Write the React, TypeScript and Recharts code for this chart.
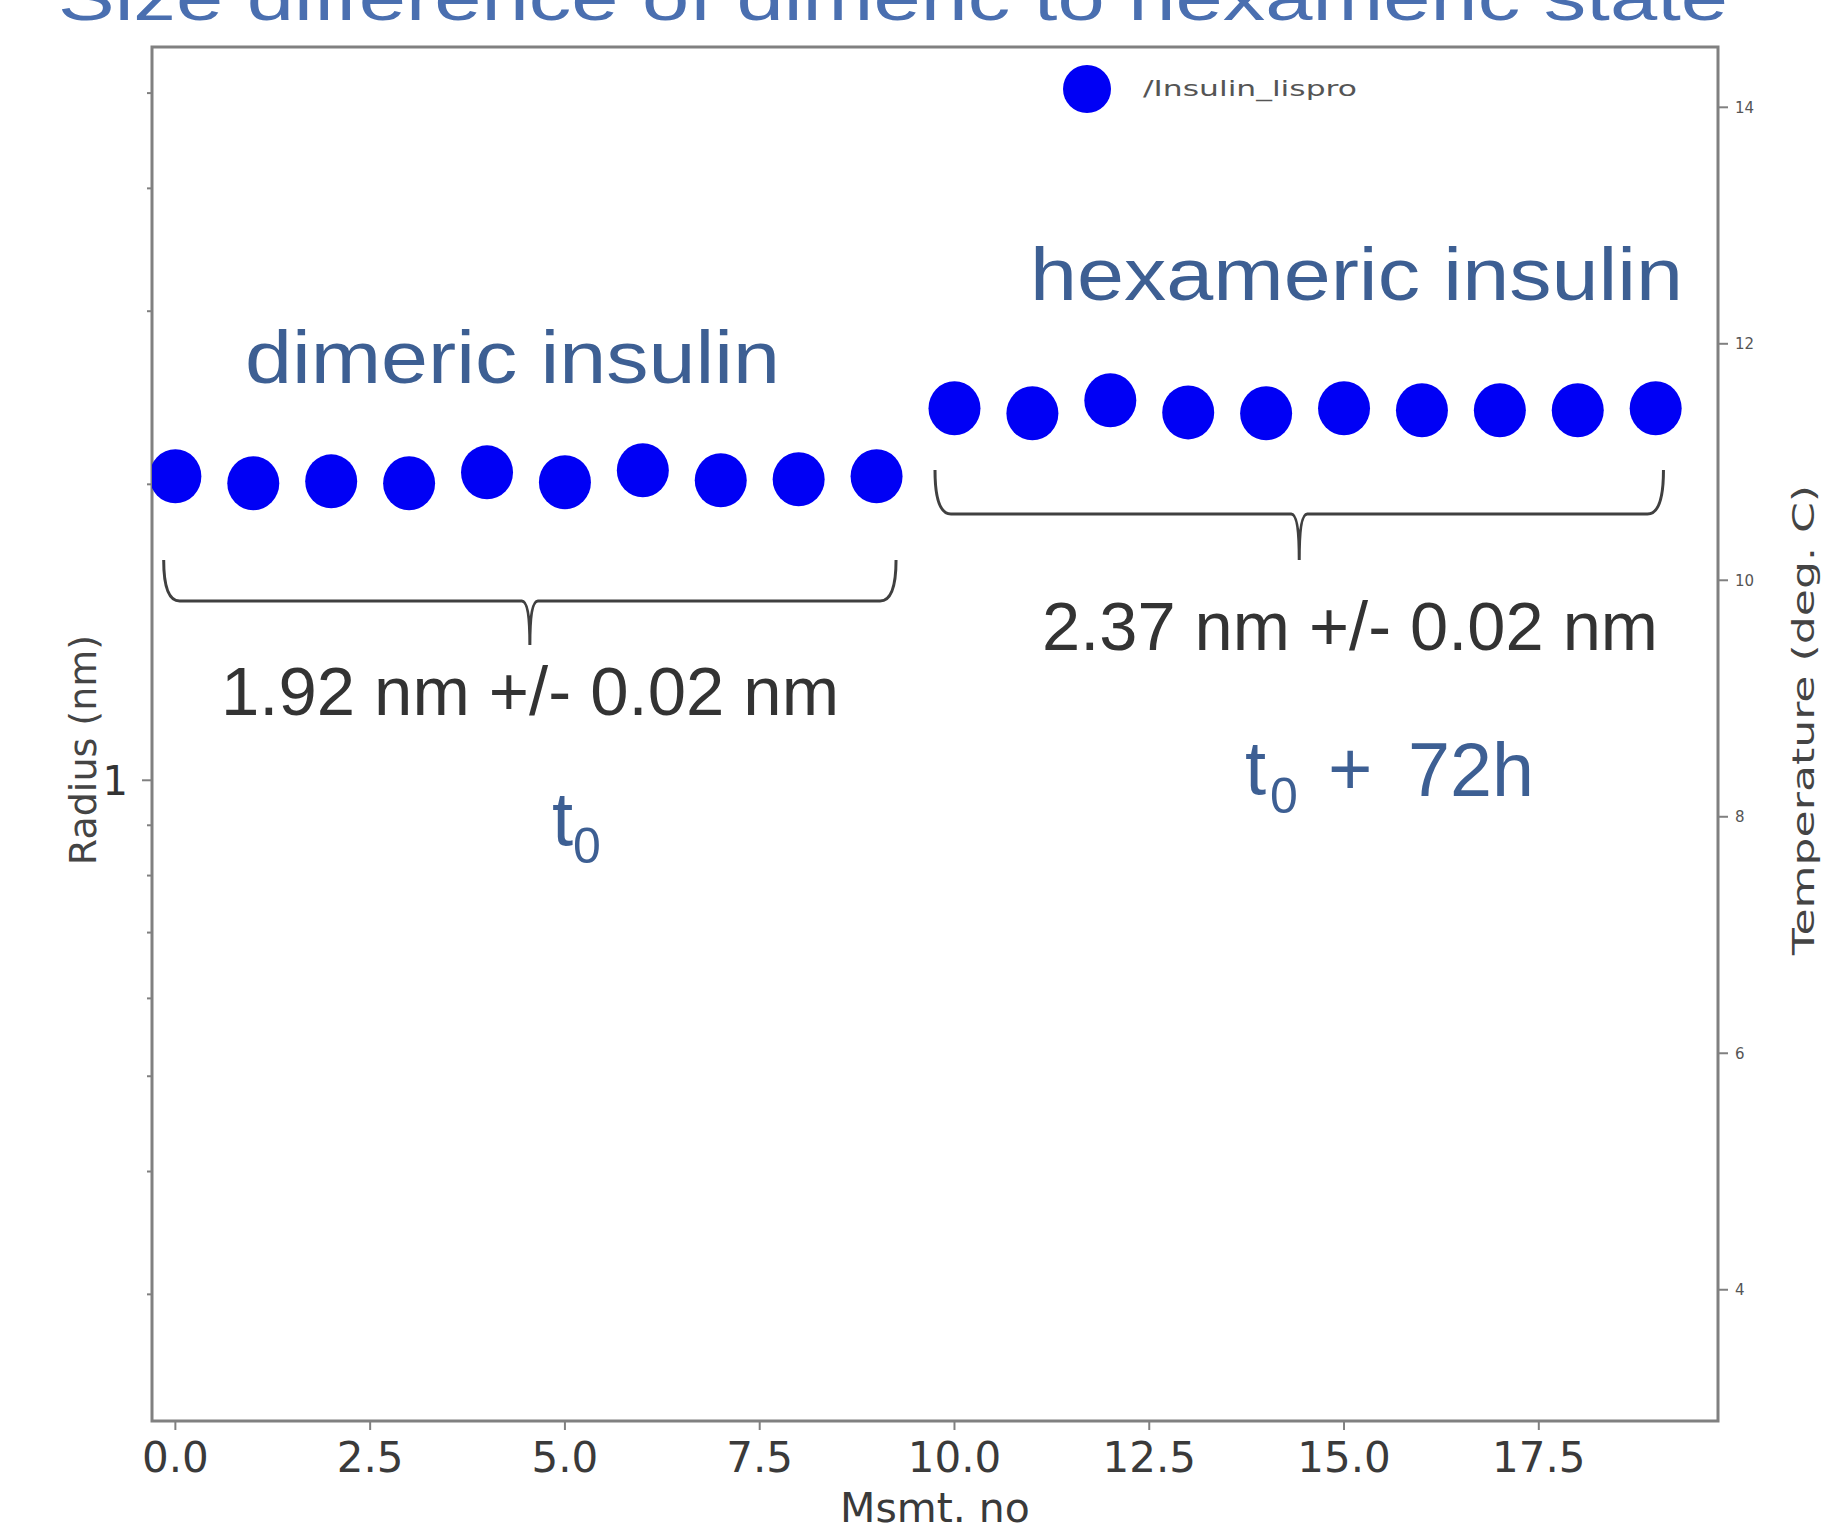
import { ScatterChart, Scatter, XAxis, YAxis, ReferenceArea, Legend } from 'recharts';

const msmtNo = [0, 1, 2, 3, 4, 5, 6, 7, 8, 9, 10, 11, 12, 13, 14, 15, 16, 17, 18, 19];
const radiusDimeric = [2.038, 2.005, 2.014, 2.005, 2.057, 2.01, 2.067, 2.019, 2.024, 2.038];
const radiusHexameric = [2.39, 2.362, 2.435, 2.367, 2.362, 2.39, 2.379, 2.379, 2.379, 2.39];

const xTicks = [0, 2.5, 5, 7.5, 10, 12.5, 15, 17.5];
const radiusTicks = [0.3, 0.4, 0.5, 0.6, 0.7, 0.8, 0.9, 1, 2, 3, 4, 5];
const radiusLabelled = [1];
const tempTicks = [4, 6, 8, 10, 12, 14];

const X_DOMAIN: [number, number] = [-0.3, 19.8];
const R_DOMAIN: [number, number] = [0.223, 5.57];
const T_DOMAIN: [number, number] = [2.89, 14.51];

const points = msmtNo.map((x, i) => ({ x, r: [...radiusDimeric, ...radiusHexameric][i] }));

const W = 1830;
const H = 1533;
const PLOT = { left: 152, right: 1718, top: 47, bottom: 1421 };
const px = (x: number) => PLOT.left + ((x - X_DOMAIN[0]) / (X_DOMAIN[1] - X_DOMAIN[0])) * (PLOT.right - PLOT.left);

const AXIS_FONT = '"DejaVu Sans", sans-serif';
const NOTE_FONT = '"Liberation Sans", Arial, sans-serif';
const BLUE = '#0000f5';
const NOTE_BLUE = '#3d5f93';
const FRAME = '#808080';

const Dot = (p: any) => <ellipse cx={p.cx} cy={p.cy} rx={26} ry={27} fill={BLUE} />;

const RadiusTick = ({ x, y, payload }: any) => {
  const major = radiusLabelled.includes(payload.value);
  return (
    <g>
      <line x1={x} x2={x - (major ? 10 : 5)} y1={y} y2={y} stroke={FRAME} strokeWidth={2} />
      {major && (
        <text x={x - 24} y={y} dy="0.36em" textAnchor="end" fontSize={40} fill="#333" fontFamily={AXIS_FONT}>
          {payload.value}
        </text>
      )}
    </g>
  );
};

const LegendBox = () => (
  <svg width={330} height={56}>
    <circle cx={32} cy={28} r={24} fill={BLUE} />
    <text x={88} y={35} fontSize={21} fill="#555" fontFamily={AXIS_FONT} textLength={214} lengthAdjust="spacingAndGlyphs">
      /Insulin_lispro
    </text>
  </svg>
);

const leftTitle = (p: any) => {
  const vb = p.viewBox || { x: 0, y: PLOT.top, width: 152, height: PLOT.bottom - PLOT.top };
  const cx = vb.x + 82;
  const cy = vb.y + vb.height / 2 + 16;
  return (
    <text x={cx} y={cy} transform={`rotate(-90 ${cx} ${cy})`} dy="0.36em" textAnchor="middle" fontSize={38} fill="#444" fontFamily={AXIS_FONT}>
      Radius (nm)
    </text>
  );
};

const rightTitle = (p: any) => {
  const vb = p.viewBox || { x: PLOT.right, y: PLOT.top, width: 112, height: PLOT.bottom - PLOT.top };
  const cx = vb.x + 85;
  const cy = vb.y + vb.height / 2 - 14;
  return (
    <text x={cx} y={cy} transform={`rotate(-90 ${cx} ${cy})`} dy="0.36em" textAnchor="middle" fontSize={30} fill="#444" fontFamily={AXIS_FONT} textLength={470} lengthAdjust="spacingAndGlyphs">
      Temperature (deg. C)
    </text>
  );
};

// curly brace opening upwards, pointing down at its middle
const brace = (x1: number, x2: number, yTop: number, yLine: number, yTip: number) => {
  const xc = (x1 + x2) / 2;
  const r = 8;
  return `M${x1},${yTop} Q${x1},${yLine} ${x1 + r * 2},${yLine} L${xc - r},${yLine} Q${xc},${yLine} ${xc},${yTip} Q${xc},${yLine} ${xc + r},${yLine} L${x2 - r * 2},${yLine} Q${x2},${yLine} ${x2},${yTop}`;
};

const Annotations = () => (
  <svg width={W} height={H} style={{ position: 'absolute', left: 0, top: 0, pointerEvents: 'none' }}>
    {/* title is cut off at the top edge in the source image */}
    <text x={58} y={20} fontSize={64} fill="#4a6fb0" fontFamily={NOTE_FONT} textLength={1670} lengthAdjust="spacingAndGlyphs">
      Size difference of dimeric to hexameric state
    </text>

    <text x={245} y={383} fontSize={74} fill={NOTE_BLUE} fontFamily={NOTE_FONT} textLength={535} lengthAdjust="spacingAndGlyphs">
      dimeric  insulin
    </text>
    <text x={1030} y={300} fontSize={74} fill={NOTE_BLUE} fontFamily={NOTE_FONT} textLength={653} lengthAdjust="spacingAndGlyphs">
      hexameric  insulin
    </text>

    <path d={brace(px(-0.15), px(9.25), 560, 601, 645)} fill="none" stroke="#404040" strokeWidth={3} />
    <path d={brace(px(9.75), px(19.1), 470, 514, 560)} fill="none" stroke="#404040" strokeWidth={3} />

    <text x={221} y={715} fontSize={68} fill="#333" fontFamily={NOTE_FONT} textLength={618} lengthAdjust="spacingAndGlyphs">
      1.92 nm +/- 0.02 nm
    </text>
    <text x={1042} y={650} fontSize={68} fill="#333" fontFamily={NOTE_FONT} textLength={616} lengthAdjust="spacingAndGlyphs">
      2.37 nm +/- 0.02 nm
    </text>

    <text x={552} y={845} fontSize={76} fill={NOTE_BLUE} fontFamily={NOTE_FONT}>t</text>
    <text x={573} y={863} fontSize={50} fill={NOTE_BLUE} fontFamily={NOTE_FONT}>0</text>

    <text x={1245} y={794} fontSize={76} fill={NOTE_BLUE} fontFamily={NOTE_FONT}>t</text>
    <text x={1270} y={813} fontSize={50} fill={NOTE_BLUE} fontFamily={NOTE_FONT}>0</text>
    <text x={1328} y={795} fontSize={76} fill={NOTE_BLUE} fontFamily={NOTE_FONT}>+</text>
    <text x={1408} y={796} fontSize={76} fill={NOTE_BLUE} fontFamily={NOTE_FONT} textLength={126} lengthAdjust="spacingAndGlyphs">
      72h
    </text>
  </svg>
);

export default function App() {
  return (
    <div style={{ position: 'absolute', left: 0, top: 0, width: W, height: H, background: '#fff', overflow: 'hidden' }}>
      <ScatterChart width={W} height={H} margin={{ top: PLOT.top, right: 0, bottom: 0, left: 0 }}>
        <XAxis
          type="number"
          dataKey="x"
          domain={X_DOMAIN}
          allowDataOverflow
          ticks={xTicks}
          interval={0}
          tickFormatter={(v: number) => v.toFixed(1)}
          height={H - PLOT.bottom}
          axisLine={false}
          tickSize={9}
          tickMargin={12}
          tickLine={{ stroke: FRAME, strokeWidth: 2 }}
          tick={{ fontSize: 42, fill: '#3a3a3a', fontFamily: AXIS_FONT }}
          label={{ value: 'Msmt. no', position: 'insideBottom', offset: 11, fontSize: 41, fill: '#3a3a3a', fontFamily: AXIS_FONT }}
        />
        <YAxis
          yAxisId="r"
          type="number"
          dataKey="r"
          scale="log"
          domain={R_DOMAIN}
          allowDataOverflow
          ticks={radiusTicks}
          interval={0}
          width={PLOT.left}
          axisLine={false}
          tickLine={false}
          tickSize={0}
          tickMargin={0}
          tick={<RadiusTick />}
          label={leftTitle}
        />
        <YAxis
          yAxisId="t"
          orientation="right"
          type="number"
          domain={T_DOMAIN}
          allowDataOverflow
          ticks={tempTicks}
          interval={0}
          width={W - PLOT.right}
          axisLine={false}
          tickSize={10}
          tickMargin={7}
          tickLine={{ stroke: FRAME, strokeWidth: 2 }}
          tick={{ fontSize: 15, fill: '#555', fontFamily: AXIS_FONT }}
          label={rightTitle}
        />
        <Legend
          layout="horizontal"
          verticalAlign="middle"
          align="center"
          wrapperStyle={{ left: 1055, top: 61, width: 330, height: 56 }}
          content={<LegendBox />}
        />
        <Scatter yAxisId="r" name="/Insulin_lispro" data={points} dataKey="r" shape={Dot} isAnimationActive={false} />
        <Scatter yAxisId="t" name="temperature" data={[]} legendType="none" isAnimationActive={false} />
        <ReferenceArea
          yAxisId="r"
          x1={X_DOMAIN[0]}
          x2={X_DOMAIN[1]}
          y1={R_DOMAIN[0]}
          y2={R_DOMAIN[1]}
          fill="none"
          fillOpacity={0}
          stroke={FRAME}
          strokeWidth={3}
          ifOverflow="visible"
        />
      </ScatterChart>
      <Annotations />
    </div>
  );
}
